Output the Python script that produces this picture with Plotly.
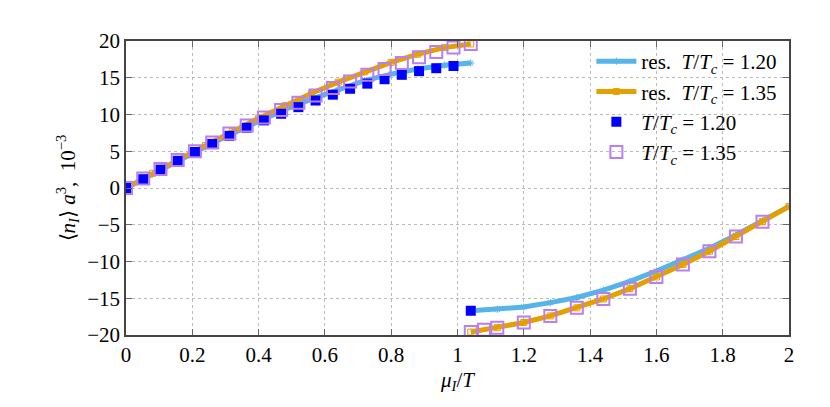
import plotly.graph_objects as go

# resummed curves, upper branch (mu_I/T from 0 to 1.04) and lower branch (1.04 to 2)
res_x_up = [0, 0.08, 0.16, 0.24, 0.32, 0.40, 0.48, 0.56, 0.64, 0.72, 0.80, 0.88, 0.96, 1.04]
res120_up = [0, 1.9, 3.8, 5.6, 7.4, 9.1, 10.7, 12.1, 13.4, 14.6, 15.5, 16.2, 16.7, 17.0]
res135_up = [0, 2.0, 3.9, 5.8, 7.7, 9.5, 11.2, 12.9, 14.4, 15.8, 17.1, 18.2, 19.1, 19.6]
res_x_low = [1.04, 1.12, 1.2, 1.28, 1.36, 1.44, 1.52, 1.6, 1.68, 1.76, 1.84, 1.92, 2.0]
res120_low = [-16.7, -16.5, -16.2, -15.6, -14.9, -13.9, -12.7, -11.3, -9.8, -8.2, -6.4, -4.5, -2.5]
res135_low = [-19.6, -19.0, -18.3, -17.4, -16.3, -15.1, -13.7, -12.1, -10.4, -8.6, -6.6, -4.6, -2.5]

# lattice points
t120_x = [0, 0.052, 0.104, 0.156, 0.208, 0.26, 0.312, 0.364, 0.416, 0.468, 0.52, 0.572,
          0.624, 0.676, 0.728, 0.78, 0.832, 0.884, 0.936, 0.988, 1.04]
t120_y = [0, 1.2, 2.5, 3.7, 4.9, 6.0, 7.1, 8.2, 9.2, 10.1, 11.0, 11.9, 12.7, 13.5, 14.2,
          14.8, 15.4, 15.9, 16.3, 16.6, -16.7]
t135_x = [0, 0.052, 0.104, 0.156, 0.208, 0.26, 0.312, 0.364, 0.416, 0.468, 0.52, 0.572,
          0.624, 0.676, 0.728, 0.78, 0.832, 0.884, 0.936, 0.988, 1.04,
          1.04, 1.08, 1.12, 1.2, 1.28, 1.36, 1.44, 1.52, 1.6, 1.68, 1.76, 1.84, 1.92]
t135_y = [0, 1.3, 2.6, 3.8, 5.0, 6.2, 7.4, 8.5, 9.6, 10.6, 11.6, 12.6, 13.6, 14.5, 15.4,
          16.2, 17.0, 17.8, 18.5, 19.1, 19.6,
          -19.6, -19.3, -19.0, -18.3, -17.4, -16.3, -15.1, -13.7, -12.1, -10.4, -8.6, -6.6, -4.6]

font = "Liberation Serif"
fig = go.Figure()

def res_trace(y_up, y_low, color, symbol, name):
    fig.add_trace(go.Scatter(
        x=res_x_up + [None] + res_x_low, y=y_up + [None] + y_low,
        mode="lines+markers", name=name,
        line=dict(color=color, width=5),
        marker=dict(symbol=symbol, size=6, color=color, line=dict(color=color, width=1)),
    ))

res_trace(res120_up, res120_low, "#56b4e9", "asterisk-open", "res.  <i>T</i>/<i>T<sub>c</sub></i> = 1.20")
res_trace(res135_up, res135_low, "#e69f00", "square-open", "res.  <i>T</i>/<i>T<sub>c</sub></i> = 1.35")

fig.add_trace(go.Scatter(
    x=t120_x, y=t120_y, mode="markers", name="<i>T</i>/<i>T<sub>c</sub></i> = 1.20",
    marker=dict(symbol="square", size=10, color="#0000ff"),
))
fig.add_trace(go.Scatter(
    x=t135_x, y=t135_y, mode="markers", name="<i>T</i>/<i>T<sub>c</sub></i> = 1.35",
    marker=dict(symbol="square-open", size=12, color="#b97fef", line=dict(width=2)),
))

axis = dict(showgrid=True, gridcolor="#bbbbbb", griddash="dot", gridwidth=1,
            showline=True, linecolor="#444444", linewidth=1.5, mirror="ticks",
            ticks="inside", ticklen=6, tickcolor="#666666", zeroline=False,
            tickfont=dict(size=21, family=font, color="black"))

fig.update_xaxes(axis, range=[0, 2], dtick=0.2,
                 title=dict(text="<i>μ<sub>I</sub></i>/<i>T</i>", font=dict(size=21, family=font), standoff=6))
fig.update_yaxes(axis, range=[-20, 20], dtick=5,
                 title=dict(text="⟨<i>n<sub>I</sub></i>⟩ <i>a</i><sup>3</sup>,  10<sup>−3</sup>",
                            font=dict(size=21, family=font), standoff=6))

fig.update_layout(
    width=830, height=407, plot_bgcolor="white", paper_bgcolor="white",
    margin=dict(l=118, r=49, t=33, b=80),
    font=dict(family=font, size=21, color="black"),
    legend=dict(x=0.99, y=1.0, xanchor="right", yanchor="top", bgcolor="rgba(0,0,0,0)",
                font=dict(size=21, family=font), tracegroupgap=0, itemwidth=40),
    showlegend=True,
)

fig.write_html("out.html")
